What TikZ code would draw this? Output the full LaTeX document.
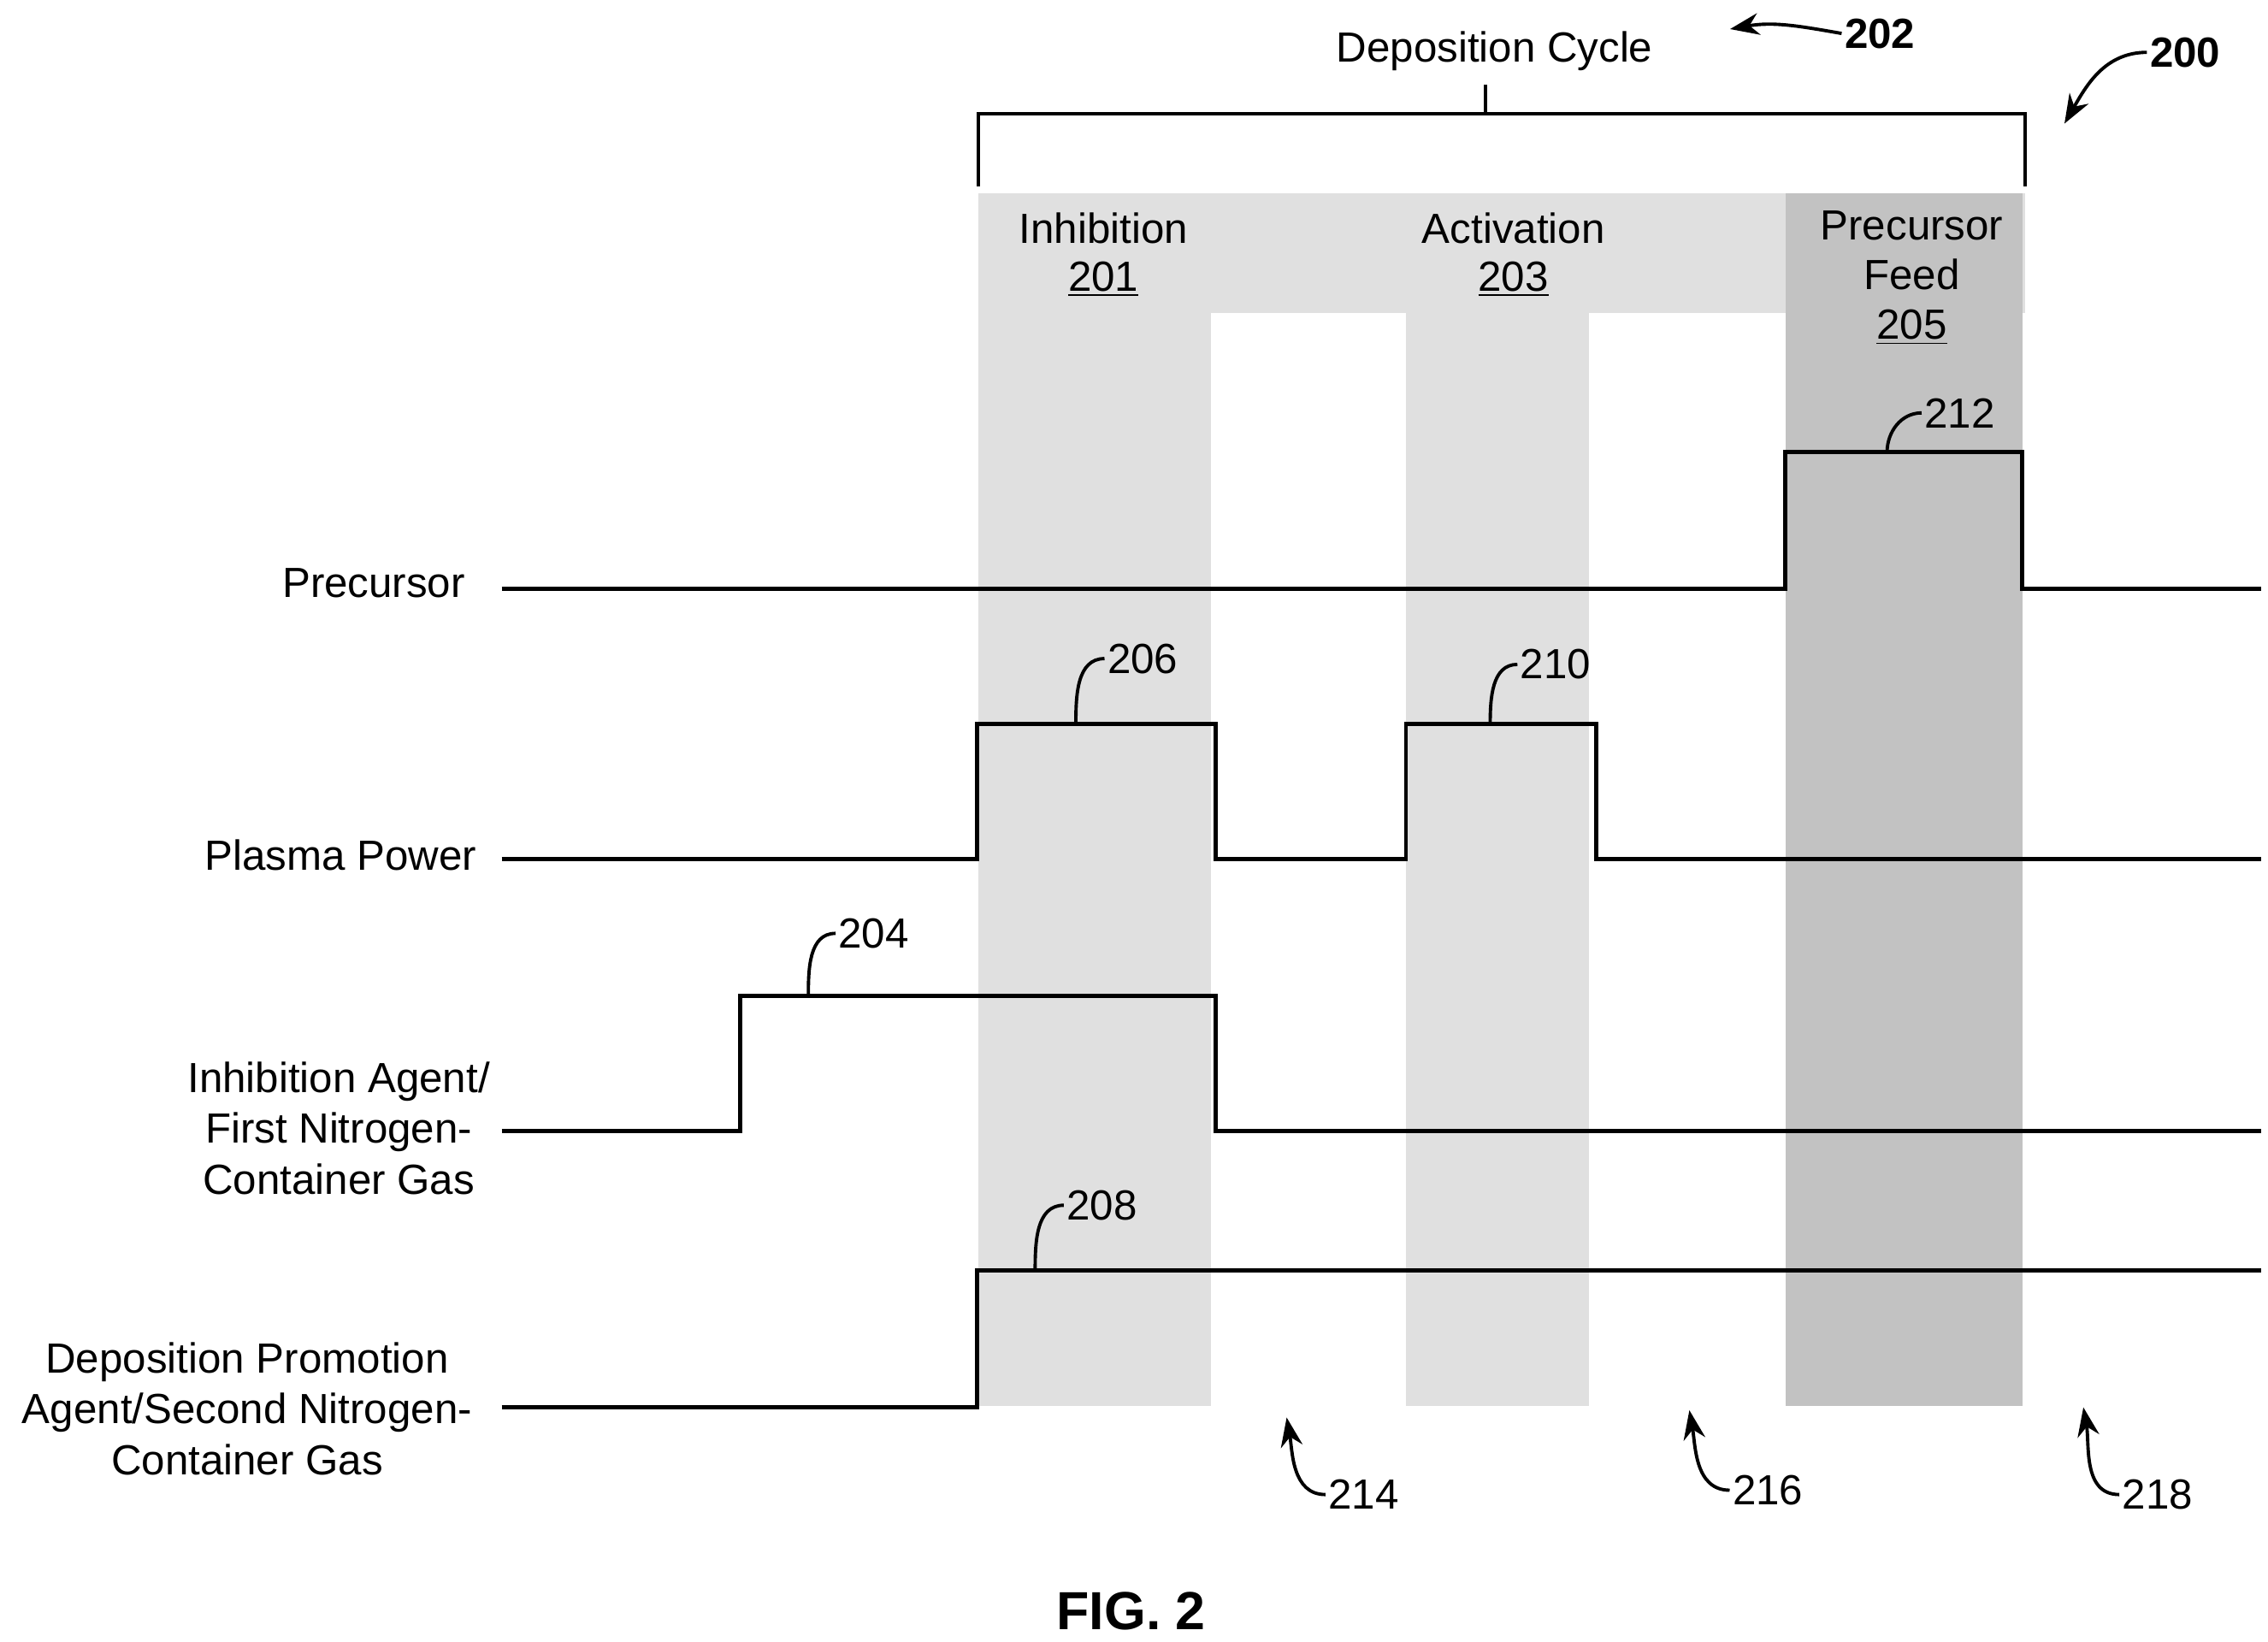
\documentclass[tikz,border=0pt]{standalone}
\usepackage{fontspec}
\setmainfont{Liberation Sans}
\usetikzlibrary{arrows.meta, positioning, calc}
\begin{document}
\begin{tikzpicture}[
		x=0.02cm, y=-0.02cm,
		every node/.style={font=\fontsize{16.5}{20}\selectfont, inner sep=1pt},
		wave/.style={line width=1.6pt},
		lead/.style={line width=1.3pt},
		callout/.style={-{Stealth[length=4mm,width=3mm]}, line width=1.3pt},
		light/.style={fill=black!12},
		dark/.style={fill=black!24},
		ref/.style={font=\fontsize{16.5}{20}\selectfont\bfseries}
		]
		\useasboundingbox (0,0) rectangle (1560,1129);
		
		% Shaded phases
		\fill[light] (673,133) rectangle (1393,215);
		\fill[light] (673,215) rectangle (833,967);
		\fill[light] (967,215) rectangle (1093,967);
		\fill[dark] (1228,133) rectangle (1391,967);
		
		% Phase labels
		\node (inh) at (759,157) {Inhibition};
		\node (inhno) at (759,192) {\underline{201}};
		\node (act) at (1041,157) {Activation};
		\node (actno) at (1041,192) {\underline{203}};
		\node (prc) at (1315,155) {Precursor};
		\node (feed) at (1315,189) {Feed};
		\node (feedno) at (1315,225) {\underline{205}};
		
		% Deposition cycle bracket
		\node (cycle) at (1028,35) {Deposition Cycle};
		\draw[lead] (673,128) -- (673,78) -- (1393,78) -- (1393,128);
		\draw[lead] (1022,78) -- (1022,58);
		
		% Figure references
		\node[ref] (r202) at (1293,23) {202};
		\coordinate (t202) at (1190,20);
		\draw[callout] (r202.west) to[out=170,in=10] (t202);
		\node[ref] (r200) at (1503,36) {200};
		\coordinate (t200) at (1420,85);
		\draw[callout] (r200.west) to[out=180,in=60] (t200);
		
		% Signal names
		\node[anchor=east] (prec) at (322,401) {Precursor};
		\node[anchor=east] (plasma) at (330,588) {Plasma Power};
		\node[align=center] (agent) at (233,776) {Inhibition Agent/\\First Nitrogen-\\Container Gas};
		\node[align=center] (promo) at (170,969) {Deposition Promotion\\Agent/Second Nitrogen-\\Container Gas};
		
		% Waveforms
		\draw[wave] (345,405) -- (1228,405) -- (1228,311) -- (1391,311) -- (1391,405) -- (1555,405);
		\draw[wave] (345,591) -- (672,591) -- (672,498) -- (836,498) -- (836,591) -- (967,591)
			-- (967,498) -- (1098,498) -- (1098,591) -- (1555,591);
		\draw[wave] (345,778) -- (509,778) -- (509,685) -- (836,685) -- (836,778) -- (1555,778);
		\draw[wave] (345,968) -- (672,968) -- (672,874) -- (1555,874);
		
		% Pulse labels
		\node (p212) at (1348,284) {212};
		\draw[lead] (1298,311) to[out=90,in=180] (p212.west);
		\node (p206) at (786,453) {206};
		\draw[lead] (740,498) to[out=90,in=180] (p206.west);
		\node (p210) at (1070,457) {210};
		\draw[lead] (1025,498) to[out=90,in=180] (p210.west);
		\node (p204) at (601,642) {204};
		\draw[lead] (556,685) to[out=90,in=180] (p204.west);
		\node (p208) at (758,829) {208};
		\draw[lead] (712,874) to[out=90,in=180] (p208.west);
		
		% Purge callouts
		\node (n214) at (938,1028) {214};
		\coordinate (g214) at (885,975);
		\draw[callout] (n214.west) to[out=180,in=-80] (g214);
		\node (n216) at (1216,1025) {216};
		\coordinate (g216) at (1162,970);
		\draw[callout] (n216.west) to[out=180,in=-80] (g216);
		\node (n218) at (1484,1028) {218};
		\coordinate (g218) at (1433,968);
		\draw[callout] (n218.west) to[out=180,in=-80] (g218);
		
		\node[font=\fontsize{21}{25}\selectfont\bfseries] (fig) at (778,1108) {FIG. 2};
	\end{tikzpicture}
\end{document}
